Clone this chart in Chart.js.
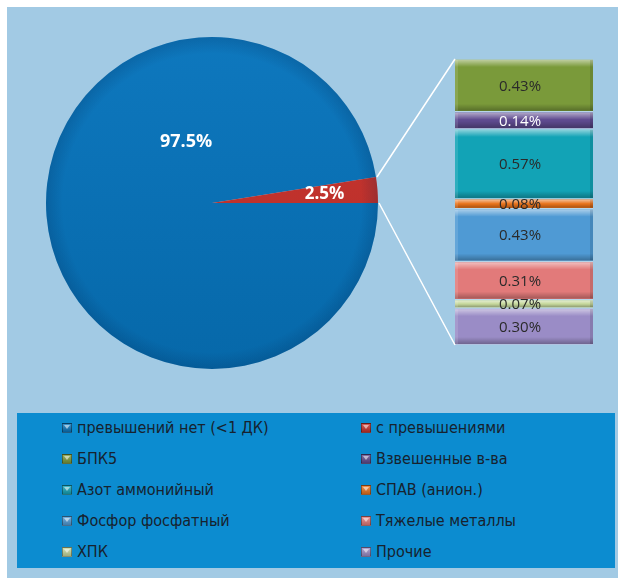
<!DOCTYPE html>
<html>
<head>
<meta charset="utf-8">
<script src="https://cdn.jsdelivr.net/npm/chart.js@4/dist/chart.umd.min.js"></script>
<style>
  body { margin: 0; background: #ffffff; width: 618px; height: 578px; overflow: hidden; position: relative; }
  #panel { position: absolute; left: 7px; top: 7px; width: 611px; height: 571px; background: #a2cae4; }
  #pie { position: absolute; left: 42px; top: 33px; }
  #stack { position: absolute; left: 455px; top: 59px; }
  #links { position: absolute; left: 0; top: 0; pointer-events: none; }
  #legend { position: absolute; left: 17px; top: 413px; width: 598px; height: 155px; background: #0c8cd0; }
  .item { position: absolute; height: 20px; line-height: 20px; font-family: "DejaVu Sans Condensed", "DejaVu Sans", sans-serif;
          font-size: 16px; color: #17222e; white-space: nowrap; }
  .sw { position: absolute; left: 0; top: 5px; width: 8px; height: 8px; border: 1px solid rgba(0,0,0,0.35); }
  .sw i { position: absolute; left: 1px; top: 1px; width: 0; height: 0; border-left: 3px solid transparent;
          border-right: 3px solid transparent; border-top: 4px solid rgba(255,255,255,0.55); }
  .item span { position: absolute; left: 15px; top: 0; }
</style>
</head>
<body>
<div id="panel"></div>
<canvas id="pie" width="340" height="340"></canvas>
<canvas id="stack" width="138" height="286"></canvas>
<canvas id="links" width="618" height="578"></canvas>
<div id="legend"></div>

<script>
// Main split: samples without / with exceedances
const pieLabels = ['превышений нет (<1 ДК)', 'с превышениями'];
const pieValues = [97.5, 2.5];

// Breakdown of the exceedances by indicator (top to bottom)
const stackLabels = ['БПК5', 'Взвешенные в-ва', 'Азот аммонийный', 'СПАВ (анион.)',
                     'Фосфор фосфатный', 'Тяжелые металлы', 'ХПК', 'Прочие'];
const stackValues = [0.43, 0.14, 0.57, 0.08, 0.43, 0.31, 0.07, 0.30];

const pieColors   = ['#0774bc', '#c8312b'];
const stackColors = ['#7a9a3a', '#5e4a8f', '#12a3b6', '#e8731c', '#4f9ad4', '#e27a7a', '#c6d89c', '#9a8cc6'];
const stackText   = ['#2a2a2a', '#ffffff', '#2a2a2a', '#2a2a2a', '#2a2a2a', '#2a2a2a', '#2a2a2a', '#2a2a2a'];

const fmt = v => v.toFixed(v < 1 ? 2 : 1) + '%';

function shade(hex, amt) {
  const n = parseInt(hex.slice(1), 16);
  let r = (n >> 16) & 255, g = (n >> 8) & 255, b = n & 255;
  const f = c => Math.max(0, Math.min(255, Math.round(amt >= 0 ? c + (255 - c) * amt : c * (1 + amt))));
  return 'rgb(' + f(r) + ',' + f(g) + ',' + f(b) + ')';
}

// ---------- pie ----------
const pieLabelPlugin = {
  id: 'pieLabels',
  afterDatasetsDraw(chart) {
    const ctx = chart.ctx;
    const arcs = chart.getDatasetMeta(0).data;
    // thin darkening at the rim
    const a0 = arcs[0];
    const rg = ctx.createRadialGradient(a0.x, a0.y, a0.outerRadius * 0.9, a0.x, a0.y, a0.outerRadius);
    rg.addColorStop(0, 'rgba(0,30,70,0.0)');
    rg.addColorStop(1, 'rgba(0,30,70,0.18)');
    ctx.save();
    ctx.beginPath();
    ctx.arc(a0.x, a0.y, a0.outerRadius, 0, Math.PI * 2);
    ctx.fillStyle = rg;
    ctx.fill();
    ctx.restore();

    ctx.save();
    ctx.fillStyle = '#ffffff';
    ctx.font = 'bold 18px "Open Sans", "DejaVu Sans", sans-serif';
    ctx.textAlign = 'center';
    ctx.textBaseline = 'middle';
    // large slice: label placed in the upper-left part of the disc
    const big = arcs[0];
    const angBig = -113 * Math.PI / 180;
    ctx.fillText(fmt(pieValues[0]), big.x + Math.cos(angBig) * big.outerRadius * 0.40,
                 big.y + Math.sin(angBig) * big.outerRadius * 0.40);
    // small slice: label along its bisector near the rim
    const sm = arcs[1];
    const mid = (sm.startAngle + sm.endAngle) / 2;
    ctx.font = 'bold 17px "Open Sans", "DejaVu Sans", sans-serif';
    ctx.fillText(fmt(pieValues[1]), sm.x + Math.cos(mid) * sm.outerRadius * 0.68,
                 sm.y + Math.sin(mid) * sm.outerRadius * 0.68);
    ctx.restore();
  }
};

const pieChart = new Chart(document.getElementById('pie'), {
  type: 'pie',
  data: {
    labels: pieLabels,
    datasets: [{
      data: pieValues,
      backgroundColor(c) {
        const area = c.chart.chartArea;
        if (!area) return pieColors[c.dataIndex];
        const base = pieColors[c.dataIndex];
        const g = c.chart.ctx.createLinearGradient(0, area.top, 0, area.bottom);
        g.addColorStop(0, shade(base, 0.03));
        g.addColorStop(1, shade(base, -0.1));
        return g;
      },
      borderWidth: 0
    }]
  },
  options: {
    responsive: false,
    animation: false,
    rotation: 90,
    radius: 166,
    layout: { padding: 0 },
    plugins: { legend: { display: false }, tooltip: { enabled: false } }
  },
  plugins: [pieLabelPlugin]
});

// ---------- stacked breakdown bar ----------
const total = stackValues.reduce((a, b) => a + b, 0);

const bevelPlugin = {
  id: 'bevel',
  afterDatasetsDraw(chart) {
    const ctx = chart.ctx;
    chart.data.datasets.forEach((ds, i) => {
      const el = chart.getDatasetMeta(i).data[0];
      const top = Math.min(el.y, el.base) + 1, bot = Math.max(el.y, el.base) - 1;
      const left = el.x - el.width / 2, right = el.x + el.width / 2;
      const h = bot - top;
      ctx.save();
      const hl = Math.min(7, h / 2);
      let g = ctx.createLinearGradient(0, top, 0, top + hl);
      g.addColorStop(0, 'rgba(255,255,255,0.5)');
      g.addColorStop(1, 'rgba(255,255,255,0)');
      ctx.fillStyle = g;
      ctx.fillRect(left, top, right - left, hl);
      g = ctx.createLinearGradient(0, bot - hl, 0, bot);
      g.addColorStop(0, 'rgba(0,0,0,0)');
      g.addColorStop(1, 'rgba(0,0,0,0.28)');
      ctx.fillStyle = g;
      ctx.fillRect(left, bot - hl, right - left, hl);
      ctx.fillStyle = 'rgba(0,0,0,0.12)';
      ctx.fillRect(right - 3, top, 3, h);
      ctx.fillStyle = 'rgba(255,255,255,0.12)';
      ctx.fillRect(left, top, 3, h);
      ctx.restore();
    });
    ctx.save();
    ctx.font = '15px "Open Sans", "DejaVu Sans", sans-serif';
    ctx.textAlign = 'center';
    ctx.textBaseline = 'middle';
    chart.data.datasets.forEach((ds, i) => {
      const el = chart.getDatasetMeta(i).data[0];
      ctx.fillStyle = stackText[i];
      ctx.fillText(fmt(stackValues[i]), el.x - 4, (el.y + el.base) / 2 + 1);
    });
    ctx.restore();
  }
};

const stackChart = new Chart(document.getElementById('stack'), {
  type: 'bar',
  data: {
    labels: [''],
    datasets: stackLabels.map((l, i) => ({
      label: l,
      data: [stackValues[i]],
      backgroundColor: stackColors[i],
      borderColor: '#b8d6ea',
      borderWidth: { top: 1, bottom: 1, left: 0, right: 0 },
      borderSkipped: false,
      barPercentage: 1,
      categoryPercentage: 1
    }))
  },
  options: {
    responsive: false,
    animation: false,
    layout: { padding: 0 },
    plugins: { legend: { display: false }, tooltip: { enabled: false } },
    scales: {
      x: { display: false, stacked: true },
      y: { display: false, stacked: true, min: 0, max: total, reverse: true }
    }
  },
  plugins: [bevelPlugin]
});

// ---------- connector lines from the small slice to the bar ----------
(function drawLinks() {
  const pc = document.getElementById('pie'), sc = document.getElementById('stack');
  const ctx = document.getElementById('links').getContext('2d');
  const arc = pieChart.getDatasetMeta(0).data[1];
  const ox = pc.offsetLeft, oy = pc.offsetTop;
  const p1 = [ox + arc.x + Math.cos(arc.startAngle) * arc.outerRadius, oy + arc.y + Math.sin(arc.startAngle) * arc.outerRadius];
  const p2 = [ox + arc.x + Math.cos(arc.endAngle) * arc.outerRadius, oy + arc.y + Math.sin(arc.endAngle) * arc.outerRadius];
  const first = stackChart.getDatasetMeta(0).data[0];
  const last = stackChart.getDatasetMeta(stackValues.length - 1).data[0];
  const bx = sc.offsetLeft + first.x - first.width / 2;
  const q1 = [bx, sc.offsetTop + Math.min(first.y, first.base)];
  const q2 = [bx, sc.offsetTop + Math.max(last.y, last.base)];
  ctx.strokeStyle = '#ffffff';
  ctx.lineWidth = 1.5;
  ctx.beginPath();
  ctx.moveTo(p1[0] + 1, p1[1]); ctx.lineTo(q1[0], q1[1]);
  ctx.moveTo(p2[0] + 1, p2[1]); ctx.lineTo(q2[0], q2[1]);
  ctx.stroke();
})();

// ---------- legend ----------
(function buildLegend() {
  const box = document.getElementById('legend');
  const names = pieLabels.concat(stackLabels);
  const colors = pieColors.concat(stackColors);
  names.forEach((n, i) => {
    const col = i % 2, row = Math.floor(i / 2);
    const d = document.createElement('div');
    d.className = 'item';
    d.style.left = (col ? 344 : 45) + 'px';
    d.style.top = (5 + row * 31) + 'px';
    const sw = document.createElement('div');
    sw.className = 'sw';
    sw.style.background = 'linear-gradient(' + shade(colors[i], 0.2) + ',' + shade(colors[i], -0.2) + ')';
    sw.appendChild(document.createElement('i'));
    const t = document.createElement('span');
    t.textContent = n;
    d.appendChild(sw);
    d.appendChild(t);
    box.appendChild(d);
  });
})();
</script>
</body>
</html>
